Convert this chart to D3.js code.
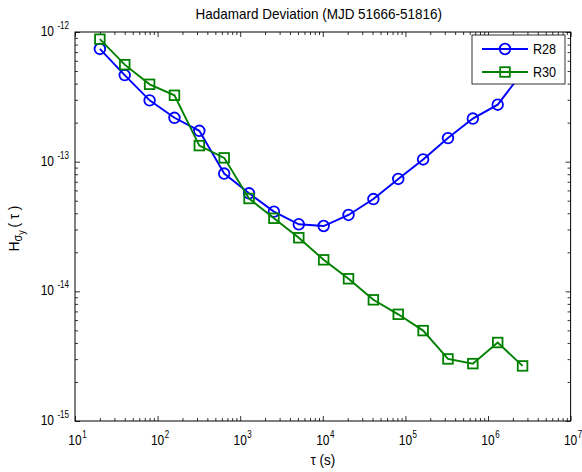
<!DOCTYPE html>
<html>
<head>
<meta charset="utf-8">
<script src="https://cdn.jsdelivr.net/npm/d3@7"></script>
<style>
  html, body { margin: 0; padding: 0; background: #ffffff; }
  svg { display: block; font-family: "Liberation Sans", Arial, Helvetica, sans-serif; }
</style>
</head>
<body>
<div id="chart"></div>
<script>
// averaging times (s)
const taus = [20, 40, 80, 160, 320, 640, 1280, 2560, 5120, 10240, 20480, 40960,
  81920, 163840, 327680, 655360, 1310720, 2621440];

// Hadamard deviation
const r28 = [7.4e-13, 4.65e-13, 2.97e-13, 2.18e-13, 1.73e-13, 8.1e-14, 5.7e-14, 4.12e-14,
  3.29e-14, 3.19e-14, 3.88e-14, 5.15e-14, 7.36e-14, 1.04e-13, 1.52e-13, 2.15e-13,
  2.75e-13, 4.9e-13];
const r30 = [8.8e-13, 5.6e-13, 3.95e-13, 3.25e-13, 1.33e-13, 1.07e-13, 5.2e-14, 3.66e-14,
  2.59e-14, 1.75e-14, 1.25e-14, 8.6e-15, 6.65e-15, 4.98e-15, 3.01e-15, 2.77e-15,
  4.03e-15, 2.66e-15];

const seriesNames = ['R28', 'R30'];
const xTickExps = [1, 2, 3, 4, 5, 6, 7];
const yTickExps = [-15, -14, -13, -12];

const titleText = 'Hadamard Deviation (MJD 51666-51816)';

const width = 582;
const height = 472;
const margin = { top: 32, right: 11.4, bottom: 51, left: 75 };
const innerWidth = width - margin.left - margin.right;
const innerHeight = height - margin.top - margin.bottom;

const blue = '#0000ff';
const green = '#008000';
const squeeze = 0.8; // the original lettering is narrow

const svg = d3.select('#chart')
  .append('svg')
  .attr('width', width)
  .attr('height', height);

const chart = svg.append('g')
  .attr('transform', `translate(${margin.left},${margin.top})`);

const xScale = d3.scaleLog()
  .domain([1e1, 1e7])
  .range([0, innerWidth]);

const yScale = d3.scaleLog()
  .domain([1e-15, 1e-12])
  .range([innerHeight, 0]);

const xMajor = xTickExps.map((e) => Math.pow(10, e));
const yMajor = yTickExps.map((e) => Math.pow(10, e));
const minorOf = (majors) => {
  const out = [];
  majors.slice(0, -1).forEach((m) => {
    for (let k = 2; k <= 9; k += 1) out.push(m * k);
  });
  return out;
};
const xMinor = minorOf(xMajor);
const yMinor = minorOf(yMajor);

const styleAxis = (g) => {
  g.select('.domain').remove();
  g.selectAll('text').remove();
  g.selectAll('line').attr('stroke', '#000').attr('stroke-width', 0.8);
};

// inward ticks on all four sides
const addTicks = (axisFn, scale, values, size, transform) => {
  chart.append('g')
    .attr('transform', transform)
    .call(axisFn(scale).tickValues(values).tickSize(size))
    .call(styleAxis);
};
addTicks(d3.axisBottom, xScale, xMajor, -5, `translate(0,${innerHeight})`);
addTicks(d3.axisBottom, xScale, xMinor, -3, `translate(0,${innerHeight})`);
addTicks(d3.axisTop, xScale, xMajor, -5, 'translate(0,0)');
addTicks(d3.axisTop, xScale, xMinor, -3, 'translate(0,0)');
addTicks(d3.axisLeft, yScale, yMajor, -5, 'translate(0,0)');
addTicks(d3.axisLeft, yScale, yMinor, -3, 'translate(0,0)');
addTicks(d3.axisRight, yScale, yMajor, -5, `translate(${innerWidth},0)`);
addTicks(d3.axisRight, yScale, yMinor, -3, `translate(${innerWidth},0)`);

// tick labels as 10^n, base and exponent as two texts
const baseSize = 15;
const expSize = 10;
const baseW = 2 * 0.556 * baseSize * squeeze;

const xLabels = chart.append('g')
  .selectAll('g')
  .data(xTickExps)
  .join('g')
  .attr('transform', (d) => `translate(${xScale(Math.pow(10, d))},${innerHeight + 24})`);
xLabels.append('text')
  .attr('transform', `scale(${squeeze},1)`)
  .attr('x', -baseW / 2 / squeeze)
  .attr('font-size', baseSize)
  .attr('fill', '#000')
  .text('10');
xLabels.append('text')
  .attr('transform', `scale(${squeeze},1)`)
  .attr('x', (baseW / 2 + 0.5) / squeeze)
  .attr('y', -7)
  .attr('font-size', expSize)
  .attr('fill', '#000')
  .text((d) => d);

const yLabels = chart.append('g')
  .selectAll('g')
  .data(yTickExps)
  .join('g')
  .attr('transform', (d) => `translate(-6,${yScale(Math.pow(10, d)) + 4})`);
yLabels.append('text')
  .attr('transform', `scale(${squeeze},1)`)
  .attr('text-anchor', 'end')
  .attr('y', -7)
  .attr('font-size', expSize)
  .attr('fill', '#000')
  .text((d) => d);
yLabels.append('text')
  .attr('transform', `scale(${squeeze},1)`)
  .attr('text-anchor', 'end')
  .attr('x', -15 / squeeze)
  .attr('font-size', baseSize)
  .attr('fill', '#000')
  .text('10');

// box
chart.append('rect')
  .attr('width', innerWidth)
  .attr('height', innerHeight)
  .attr('fill', 'none')
  .attr('stroke', '#000')
  .attr('stroke-width', 1);

// series
const series = [
  { name: seriesNames[0], values: r28, color: blue, marker: 'circle' },
  { name: seriesNames[1], values: r30, color: green, marker: 'square' },
];

const lineGenerator = d3.line()
  .x((d) => xScale(d.tau))
  .y((d) => yScale(d.value));

const drawMarker = (g, shape, color) => {
  if (shape === 'circle') {
    g.append('circle')
      .attr('r', 5.3)
      .attr('fill', 'none')
      .attr('stroke', color)
      .attr('stroke-width', 1.8);
  } else {
    g.append('rect')
      .attr('x', -4.8)
      .attr('y', -4.8)
      .attr('width', 9.6)
      .attr('height', 9.6)
      .attr('fill', 'none')
      .attr('stroke', color)
      .attr('stroke-width', 1.8);
  }
};

series.forEach((s) => {
  const pts = taus.map((tau, i) => ({ tau, value: s.values[i] }));
  chart.append('path')
    .datum(pts)
    .attr('fill', 'none')
    .attr('stroke', s.color)
    .attr('stroke-width', 1.9)
    .attr('d', lineGenerator);

  chart.append('g')
    .selectAll('g')
    .data(pts)
    .join('g')
    .attr('transform', (d) => `translate(${xScale(d.tau)},${yScale(d.value)})`)
    .each(function () { drawMarker(d3.select(this), s.marker, s.color); });
});

// legend
const legend = svg.append('g').attr('transform', 'translate(472,35)');
legend.append('rect')
  .attr('width', 93)
  .attr('height', 49)
  .attr('fill', '#ffffff')
  .attr('stroke', '#000')
  .attr('stroke-width', 0.8);

series.forEach((s, i) => {
  const row = legend.append('g').attr('transform', `translate(0,${14 + i * 23})`);
  row.append('line')
    .attr('x1', 10)
    .attr('x2', 56)
    .attr('stroke', s.color)
    .attr('stroke-width', 1.9);
  const m = row.append('g').attr('transform', 'translate(33,0)');
  drawMarker(m, s.marker, s.color);
  row.append('text')
    .attr('transform', `translate(61,5) scale(${squeeze + 0.1},1)`)
    .attr('font-size', 14)
    .attr('fill', '#000')
    .text(s.name);
});

// title and axis labels
svg.append('text')
  .attr('transform', `translate(${margin.left + innerWidth / 2 - 4},19) scale(0.9,1)`)
  .attr('text-anchor', 'middle')
  .attr('font-size', 15)
  .attr('fill', '#000')
  .text(titleText);

svg.append('text')
  .attr('transform', `translate(${margin.left + innerWidth / 2},465) scale(0.9,1)`)
  .attr('text-anchor', 'middle')
  .attr('font-size', 15)
  .attr('fill', '#000')
  .text('τ (s)');

const yLabel = svg.append('text')
  .attr('transform', `translate(19,${margin.top + innerHeight / 2 + 2}) rotate(-90) scale(0.9,1)`)
  .attr('text-anchor', 'middle')
  .attr('font-size', 15)
  .attr('fill', '#000');
yLabel.append('tspan').text('H');
yLabel.append('tspan').attr('dy', 3).attr('font-size', 12).text('σ');
yLabel.append('tspan').attr('dy', 3).attr('font-size', 10).text('y');
yLabel.append('tspan').attr('dy', -6).text('\u2009( τ )');
</script>
</body>
</html>
